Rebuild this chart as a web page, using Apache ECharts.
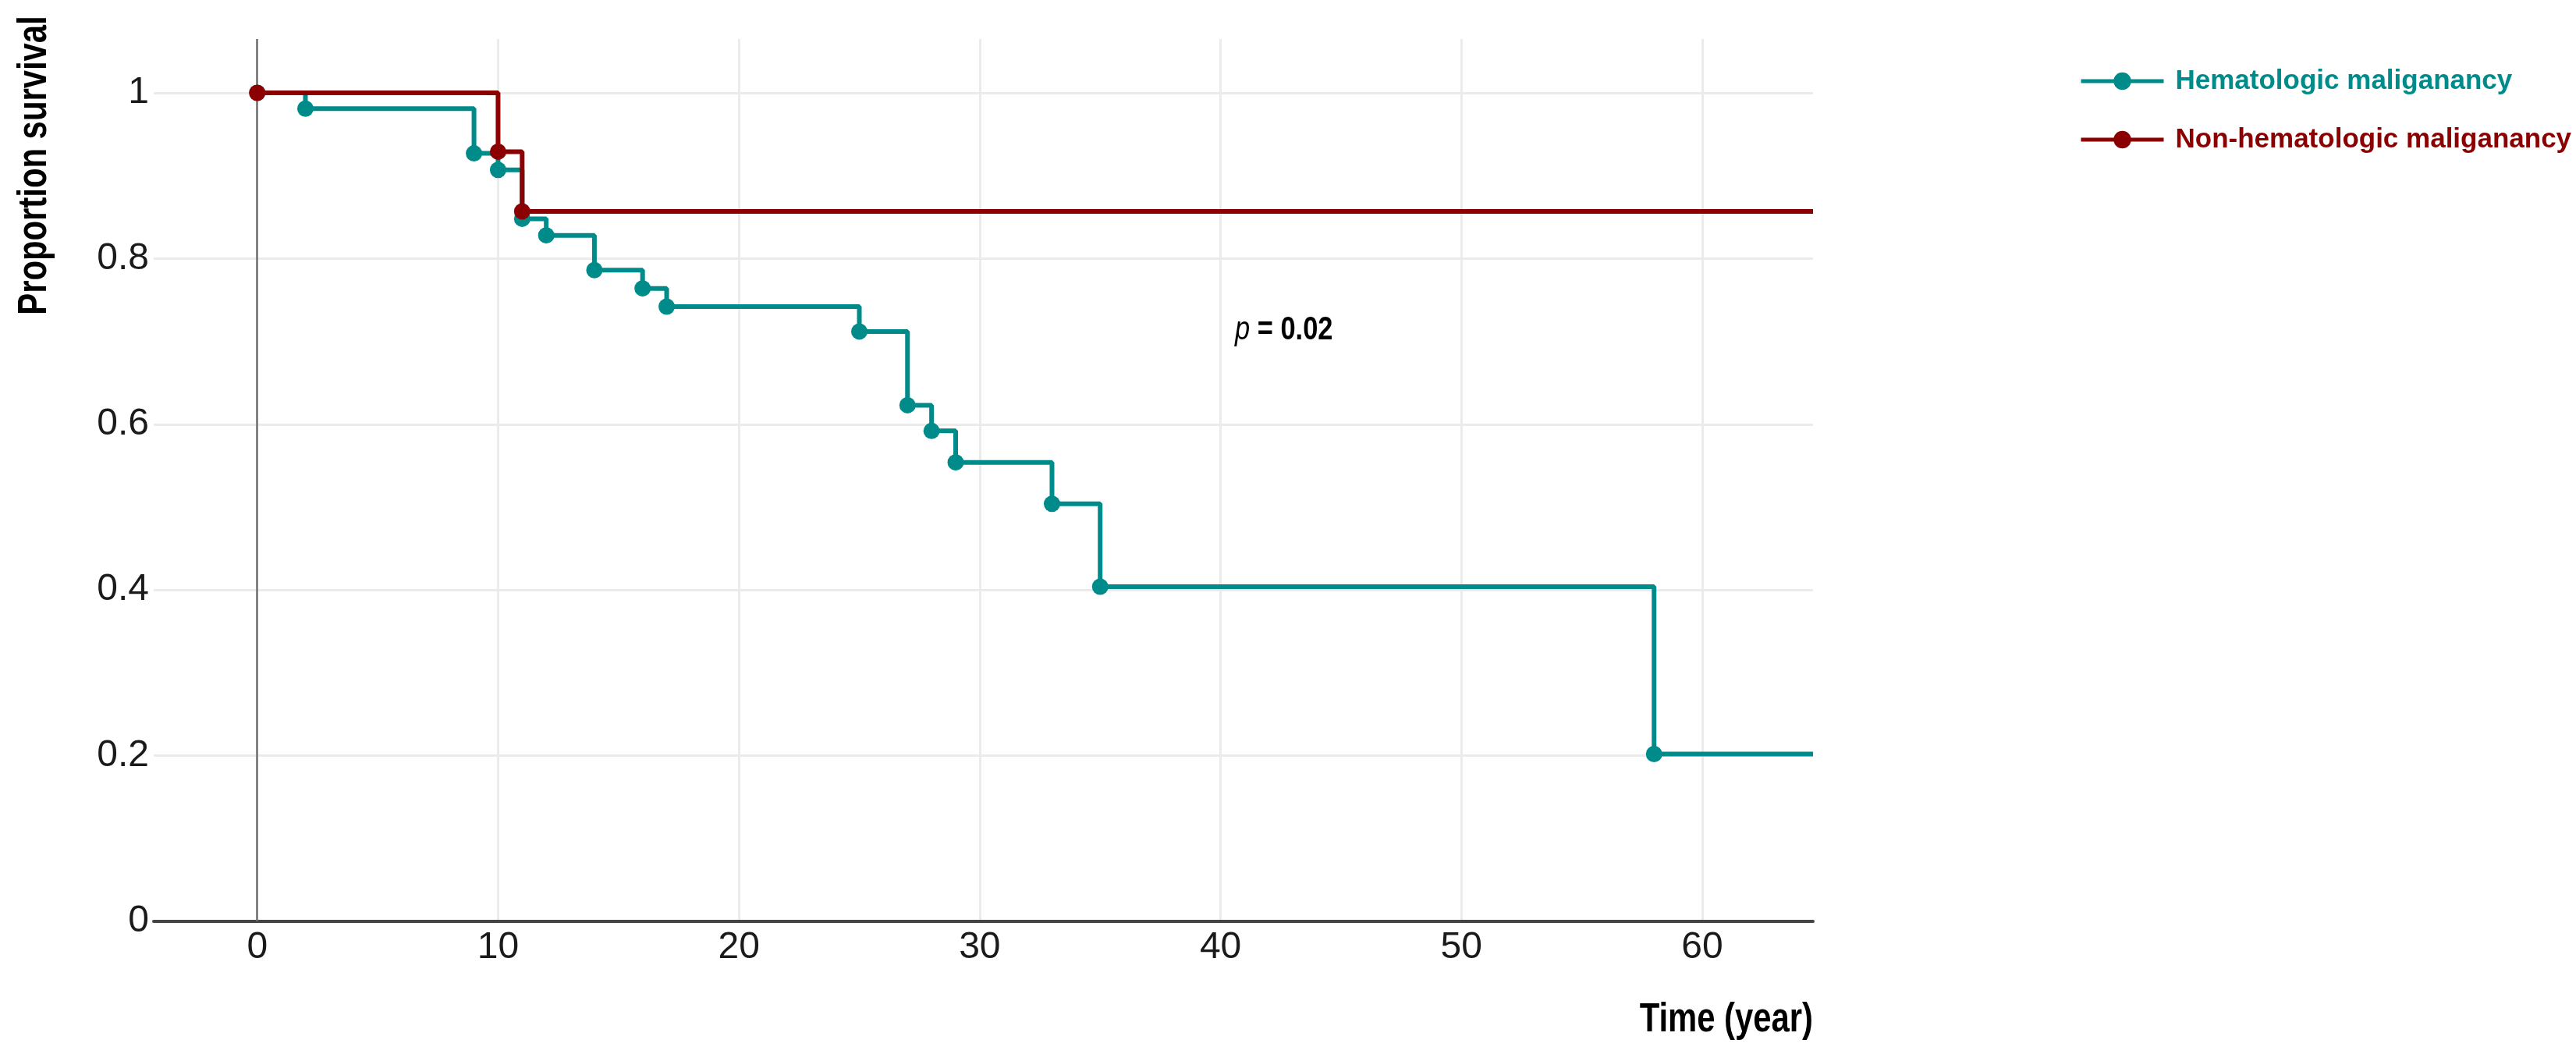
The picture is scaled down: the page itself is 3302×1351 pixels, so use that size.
<!DOCTYPE html>
<html>
<head>
<meta charset="utf-8">
<script src="https://cdn.jsdelivr.net/npm/echarts@6/dist/echarts.min.js"></script>
<style>
  html, body { margin: 0; padding: 0; background: #ffffff; }
  #chart { width: 3302px; height: 1351px; }
</style>
</head>
<body>
<div id="chart"></div>
<script>
// ---- data ----
var seriesNames = ['Hematologic maliganancy', 'Non-hematologic maliganancy'];
var hemaTimes  = [0, 2, 9, 10, 11, 12, 14, 16, 17, 25, 27, 28, 29, 33, 35, 58];
var hemaSurv   = [1, 0.981, 0.927, 0.907, 0.848, 0.828, 0.786, 0.764, 0.742, 0.712, 0.623, 0.592, 0.554, 0.504, 0.404, 0.202];
var nonHemaTimes = [0, 10, 11];
var nonHemaSurv  = [1, 0.929, 0.857];
var followUpEnd = 64.6;            // curves run on to the right edge (censored, no marker)
var xTicks = [0, 10, 20, 30, 40, 50, 60];
var yTicks = [0, 0.2, 0.4, 0.6, 0.8, 1];
var pValueText = '0.02';

var tealColor = '#008b8b';
var redColor = '#8b0000';
var sans = "'Liberation Sans', Arial, sans-serif";
var narrowScale = 0.82;   // emulate a condensed bold face

function buildSteps(times, surv) {
  var pts = times.map(function (t, i) { return [t, surv[i]]; });
  pts.push({ value: [followUpEnd, surv[surv.length - 1]], symbol: 'none' });
  return pts;
}

var chart = echarts.init(document.getElementById('chart'), null, { renderer: 'canvas' });

var option = {
  animation: false,
  backgroundColor: '#ffffff',
  grid: { left: 197, right: 978, top: 50, bottom: 170, containLabel: false },
  xAxis: {
    type: 'value',
    min: -4.3,
    max: followUpEnd,
    axisLine: { show: true, onZero: false, lineStyle: { color: '#444444', width: 4 } },
    axisTick: { show: false, customValues: xTicks },
    axisLabel: { customValues: xTicks, fontFamily: sans, fontSize: 48, color: '#1a1a1a', margin: 10 },
    splitLine: { show: true, lineStyle: { color: '#ebebeb', width: 3 } }
  },
  yAxis: {
    type: 'value',
    min: 0,
    max: 1.065,
    axisLine: { show: false },
    axisTick: { show: false, customValues: yTicks },
    axisLabel: { customValues: yTicks, fontFamily: sans, fontSize: 48, color: '#1a1a1a', margin: 6,
                 formatter: function (v) { return String(+v.toFixed(2)); } },
    splitLine: { show: true, lineStyle: { color: '#ebebeb', width: 3 } }
  },
  legend: {
    orient: 'vertical',
    left: 2660,
    top: 79,
    itemWidth: 106,
    itemHeight: 28,
    itemGap: 35,
    lineStyle: { width: 5 },
    textStyle: { fontFamily: sans, fontWeight: 'bold', fontSize: 35, lineHeight: 40, padding: [0, 0, 0, 10] },
    data: [
      { name: seriesNames[0], textStyle: { color: tealColor } },
      { name: seriesNames[1], textStyle: { color: redColor } }
    ]
  },
  series: [
    {
      name: seriesNames[0],
      type: 'line',
      step: 'end',
      data: buildSteps(hemaTimes, hemaSurv),
      symbol: 'circle',
      symbolSize: 21,
      lineStyle: { color: tealColor, width: 6 },
      itemStyle: { color: tealColor },
      z: 3,
      markLine: {
        silent: true,
        symbol: 'none',
        label: { show: false },
        lineStyle: { color: '#6f6f6f', width: 2.5, type: 'solid' },
        data: [{ xAxis: 0 }],
        z: 1
      }
    },
    {
      name: seriesNames[1],
      type: 'line',
      step: 'end',
      data: buildSteps(nonHemaTimes, nonHemaSurv),
      symbol: 'circle',
      symbolSize: 21,
      lineStyle: { color: redColor, width: 6 },
      itemStyle: { color: redColor },
      z: 4
    }
  ],
  graphic: [
    {
      type: 'text',
      x: 45, y: 212,
      rotation: Math.PI / 2,
      scaleX: narrowScale,
      style: { text: 'Proportion survival', fontFamily: sans, fontWeight: 'bold', fontSize: 51,
               fill: '#000000', align: 'center', verticalAlign: 'middle' }
    },
    {
      type: 'text',
      x: 2324, y: 1308,
      scaleX: narrowScale,
      style: { text: 'Time (year)', fontFamily: sans, fontWeight: 'bold', fontSize: 51,
               fill: '#000000', align: 'right', verticalAlign: 'middle' }
    },
    {
      type: 'text',
      x: 1583, y: 423,
      scaleX: narrowScale,
      style: {
        text: '{i|p} = ' + pValueText,
        fontFamily: sans, fontWeight: 'bold', fontSize: 42, fill: '#000000',
        align: 'left', verticalAlign: 'middle',
        rich: { i: { fontStyle: 'italic', fontWeight: 'normal', fontFamily: sans, fontSize: 42, fill: '#000000' } }
      }
    }
  ]
};

chart.setOption(option);
</script>
</body>
</html>
